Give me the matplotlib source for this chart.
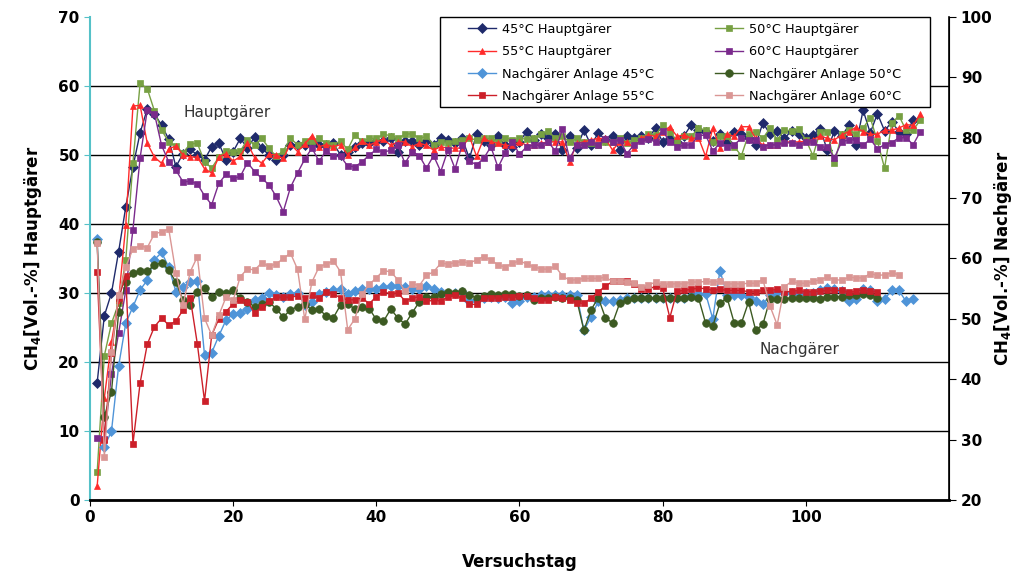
import numpy as np
import matplotlib
matplotlib.use("Agg")
import matplotlib.pyplot as plt
from matplotlib.patches import Rectangle

# CH4 Hauptgärer (left axis, Vol.-%)
h45 = [17, 26.7, 30, 36, 42.5, 48.3, 53.2, 56.7, 56, 54.3, 52.3, 48.3, 50.2, 50.8, 50, 49.3, 51.2, 51.7,
       49.3, 50.5, 52.4, 51, 52.6, 51, 50, 49.3, 50, 51.5, 51.4, 51.5, 52, 51.5, 51.5, 51.7, 50, 50.5, 51.2,
       51.7, 51.7, 52, 52, 52.4, 50.5, 52, 52, 51.5, 52, 51.5, 52.5, 52.2, 51.8, 52.4,
       49.5, 53, 52, 51.5, 52.7, 51.4, 51.2, 51.9, 53.4, 52.2, 53.1, 52.4, 53, 50.7, 52.7, 51, 53.6, 51.4,
       53.2, 52.2, 52.7, 50.7, 52.7, 52.4, 52.7, 52.4, 53.9, 51.9, 52.5, 51.9, 52.8, 54.4, 53.6,
       53.4, 52, 53, 51.9, 53.4, 53, 52.4, 51.4, 54.7, 53, 53.5, 52.4, 53.5, 53, 52.5, 52.9, 53.8, 50.7,
       53.5, 52.7, 54.3, 51.4, 56.5, 53.2, 56, 53.5, 54.8, 53.4, 53, 55.1]
h50 = [4, 20.9, 25.6, 28.5, 34.8, 48.9, 60.4, 59.6, 56.4, 53.6, 51.9, 51.3, 50.3, 51.6, 51.7, 49, 48.1, 49.7,
       50.6, 50.5, 50.6, 52.2, 51.5, 52.4, 51, 49.8, 50.6, 52.4, 51.5, 52, 52.1, 52.4, 51.7, 51.5, 52, 50.8,
       52.9, 52, 52.4, 52.4, 53, 52.8, 52.4, 53, 53.1, 52.4, 52.7, 51.5, 51.9, 51.7, 52, 52.2,
       52.4, 52.2, 52.4, 52.4, 51.9, 52.5, 52.2, 52.4, 52.3, 52.4, 53, 53.5, 52.4, 52.7, 51.9, 52.4, 51.9,
       51.7, 51.4, 51.9, 51.9, 52.4, 51.7, 52.2, 52.4, 53, 52.9, 54.3, 53.4, 52, 52.7, 52.7, 53.9,
       53.6, 51.9, 52.8, 52.7, 51.2, 49.9, 53, 53.4, 52.4, 53.9, 52.2, 53.6, 53.5, 53.7, 52.2, 49.9, 53.4,
       53.4, 48.8, 53, 53.6, 53, 53.9, 55.4, 52, 48.1, 54.6, 55.7, 53.6, 53.6, 55.1]
h55 = [2, 14.8, 22.9, 29, 39.9, 57.1, 57.2, 51.7, 49.7, 48.8, 50.9, 51.3, 50, 49.7, 49.7, 48, 47.4, 49.7,
       50.2, 49.1, 49.8, 51.7, 49.6, 48.8, 50.1, 50, 49.5, 51.6, 50.5, 51.6, 52.8, 51.2, 51.5, 51.2, 51.5,
       50, 51.1, 52, 51.4, 51.9, 52.3, 51.4, 51.9, 51.9, 51.2, 51.7, 51.4, 50.7, 51.2, 51, 51, 51,
       52.7, 49.8, 52.4, 51.9, 51.7, 51.4, 51.4, 51.9, 51.4, 51.4, 51.7, 51.9, 51.9, 51.9, 49, 51.7, 51.9,
       52.2, 52.4, 52.4, 50.7, 51.9, 51.9, 51, 52.4, 52.9, 52.7, 53.4, 54.1, 52.7, 52.9, 52.4, 52.5,
       49.8, 53.9, 51, 53, 52.7, 54.1, 54.1, 52.4, 51.4, 51.5, 51.4, 51.9, 51.9, 51.9, 52, 52.2, 52.8, 52.4,
       52.2, 52.9, 53.4, 54, 53.4, 53, 53, 53.6, 53.6, 53.9, 54.4, 54.3, 55.9]
h60 = [9, 8.8, 18.3, 24.2, 30.4, 39.2, 49.6, 56.5, 56, 51.4, 49, 47.8, 46.1, 46.2, 45.8, 44.1, 42.8, 45.9,
       47.2, 46.6, 46.9, 48.9, 47.6, 46.6, 45.7, 44, 41.8, 45.3, 47.4, 49.4, 51, 49.1, 50.6, 49.8, 49.8,
       48.4, 48.3, 49, 50, 50.8, 50.4, 50.7, 51.4, 48.8, 50.5, 49.9, 48.1, 49.9, 47.6, 50.7, 48, 51.5,
       49.1, 48.6, 49.5, 51.2, 48.2, 50.3, 51.9, 50.1, 51.2, 51.4, 51.4, 51.9, 50.6, 53.7, 49.5, 51.4, 51.5,
       51.9, 51.5, 52.3, 51.9, 52.2, 50.2, 51.5, 52, 52.3, 51.9, 53.5, 51.9, 51.2, 51.4, 51.5, 52.8,
       52.9, 50.6, 51.7, 51.2, 51.5, 52.4, 52.2, 52.2, 51.1, 51.5, 51.5, 51.7, 51.8, 51.5, 51.9, 51.9, 51.2,
       51.1, 49.6, 51.9, 52.2, 52.2, 51.4, 52.3, 50.9, 51.5, 51.8, 52.5, 52.5, 51.5, 53.4]

# CH4 Nachgärer (right axis, Vol.-%)
n45 = [63.2, 28.8, 31.4, 42.2, 49.3, 52, 54.8, 56.4, 59.8, 61, 58.6, 54.5, 55.3, 56.1, 56.3, 44, 44.4, 47.2,
       49.8, 50.8, 51, 51.7, 53.1, 53.5, 54.3, 53.9, 53.6, 54.1, 54.3, 52.3, 52.8, 54.2, 54.5, 54.7, 54.9,
       54.2, 54.6, 54.9, 54.9, 54.9, 55.3, 55.4, 55.4, 55.2, 55, 55, 55.4, 55, 54.5, 54.2, 54.3,
       54.5, 52.9, 53.2, 53.5, 53.6, 53.5, 53.7, 52.6, 53, 53.6, 53.6, 53.9, 54, 54, 54, 54, 54, 48.1, 50.3,
       52.9, 53, 53, 53.2, 53.5, 53.5, 53.5, 53.5, 53.5, 53.5, 53.5, 53.5, 53.5, 53.8, 54.1,
       54.2, 50, 58, 54, 53.9, 53.9, 53.6, 52.9, 52.4, 54, 54.4, 54.3, 54.3, 54.3, 54.3, 54.3, 54.7, 55.1,
       54.9, 54.6, 52.9, 53.3, 54.9, 54.7, 52.9, 53.3, 54.7, 54.7, 52.9, 53.3]
n50 = [62.7, 33.8, 37.9, 51.1, 56.1, 57.6, 57.9, 57.9, 58.9, 59.3, 58.1, 56.1, 53.1, 52.3, 54.5, 55.1, 53.6, 54.5,
       54.3, 54.7, 53.4, 52.8, 52, 52.5, 52.8, 51.7, 50.3, 51.5, 52, 52.4, 51.5, 51.7, 50.4, 50.2, 52.3,
       52.4, 51.7, 52, 51.7, 49.9, 49.6, 51.6, 50.2, 49.1, 51, 52.8, 53.6, 53.7, 54.2, 54.5, 54.3,
       54.6, 53.9, 53.5, 53.8, 54.1, 53.9, 54.1, 54.1, 53.8, 53.9, 53.2, 53.5, 53.5, 53.6, 53.4, 53.5, 53.1,
       48.1, 51.5, 53.5, 50.2, 49.3, 52.6, 53.1, 53.5, 53.5, 53.5, 53.5, 53.5, 53.5, 53.5, 53.5, 53.6, 53.5,
       49.3, 48.8, 52.6, 53.5, 49.3, 49.3, 52.8, 48.1, 49.1, 53.3, 53.3, 53.3, 53.5, 53.5, 53.5, 53.5, 53.3,
       53.7, 53.7, 53.7, 53.9, 53.9, 54.2, 53.9, 53.5]
n55 = [57.8, 30, 44.3, 53.5, 57.1, 29.3, 39.4, 45.8, 48.7, 50.1, 49, 49.6, 51.5, 53.5, 45.8, 36.4, 47.3, 50,
       51.2, 52.5, 53.2, 52.8, 51, 52, 52.9, 53.6, 53.6, 53.6, 53.8, 53.5, 53.9, 53.4, 54.5, 54.1, 53.5,
       53.1, 53.2, 53.5, 52.5, 53.7, 54.5, 54.1, 54.3, 53, 53.4, 53.7, 53, 53, 53, 53.6, 53.9,
       53.4, 52.4, 52.4, 53.5, 53.5, 53.4, 53.6, 53.6, 53.8, 53.8, 53.5, 53.1, 53.1, 53.6, 53.5, 53.2, 52.6,
       52.6, 53.4, 54.5, 55.4, 56.2, 56.3, 56.2, 55.8, 54.9, 54.9, 55.4, 55.1, 50.2, 54.6, 54.7, 54.9, 55.1,
       55, 54.7, 54.9, 54.7, 54.7, 54.7, 54.5, 54.5, 54.7, 54.7, 54.9, 54.4, 54.6, 54.7, 54.5, 54.5, 54.6,
       54.7, 54.7, 54.7, 54.4, 54.6, 54.7, 54.6, 54.4]
n60 = [62.6, 27.1, 44.5, 54, 58.6, 61.6, 62.1, 61.8, 64.1, 64.4, 64.9, 57.6, 52.3, 57.8, 60.3, 50.1, 47.3, 50.6,
       53.6, 53.1, 57, 58.3, 58.1, 59.3, 58.7, 59.1, 60, 60.9, 58.2, 49.9, 56.1, 58.6, 59.1, 59.6, 57.8,
       48.2, 50, 54.1, 55.7, 56.8, 58, 57.8, 56.5, 54.6, 55.8, 55.5, 57.2, 57.8, 59.2, 59.1, 59.3,
       59.5, 59.2, 59.8, 60.3, 59.8, 58.9, 58.6, 59.2, 59.6, 59.1, 58.6, 58.3, 58.2, 58.7, 57.1, 56.4, 56.5,
       56.7, 56.7, 56.7, 56.9, 56.2, 56.2, 56.1, 55.9, 55.3, 55.6, 56.1, 55.7, 55.8, 55.8, 55.8, 56.1, 56.1,
       56.2, 56.1, 56.2, 55.8, 55.8, 55.8, 55.9, 55.9, 56.5, 52.1, 49, 55.3, 56.2, 55.9, 55.9, 56.2, 56.5,
       56.9, 56.5, 56.4, 56.9, 56.8, 56.8, 57.5, 57.2, 57.3, 57.6, 57.3]

haupt = [
    (h45, "45°C Hauptgärer", "#1F2A6B", "D", 5.0),
    (h50, "50°C Hauptgärer", "#77A043", "s", 5.0),
    (h55, "55°C Hauptgärer", "#FF2B2B", "^", 5.0),
    (h60, "60°C Hauptgärer", "#7A2A8C", "s", 5.0),
]
nach = [
    (n45, "Nachgärer Anlage 45°C", "#4F94D8", "D", 5.0),
    (n50, "Nachgärer Anlage 50°C", "#3C5A22", "o", 5.5),
    (n55, "Nachgärer Anlage 55°C", "#CC1F29", "s", 4.5),
    (n60, "Nachgärer Anlage 60°C", "#DA9694", "s", 4.5),
]

W, H = 1012, 574
fig = plt.figure(figsize=(W / 100, H / 100), dpi=100)
ax = fig.add_axes([90 / W, 1 - 500 / H, 859 / W, 483 / H])
ax2 = ax.twinx()

handles = {}
for vals, lab, col, mk, ms in haupt:
    days = np.arange(1, len(vals) + 1)
    l, = ax.plot(days, vals, color=col, marker=mk, markersize=ms, lw=1.0,
                 markeredgewidth=0.5, label=lab)
    handles[lab] = l
for vals, lab, col, mk, ms in nach:
    days = np.arange(1, len(vals) + 1)
    l, = ax2.plot(days, vals, color=col, marker=mk, markersize=ms, lw=1.0,
                  markeredgewidth=0.5, label=lab)
    handles[lab] = l

ax.set_xlim(0, 120)
ax.set_ylim(0, 70)
ax2.set_ylim(20, 100)
ax.set_xticks(np.arange(0, 101, 20))
ax.set_yticks(np.arange(0, 71, 10))
ax2.set_yticks(np.arange(20, 101, 10))

ax.grid(axis="y", color="black", lw=1.0)
ax.get_ygridlines()[-1].set_visible(False)
ax.set_axisbelow(True)

for a in (ax, ax2):
    a.spines["top"].set_visible(False)
ax.spines["left"].set_color("#55C1C8")
ax.spines["left"].set_linewidth(1.5)
ax.spines["bottom"].set_linewidth(2.0)
ax2.spines["left"].set_visible(False)
ax2.spines["bottom"].set_visible(False)
ax2.spines["right"].set_linewidth(1.2)

ax.tick_params(axis="y", colors="#55C1C8", labelcolor="black", length=4, labelsize=11)
ax.tick_params(axis="x", length=4, labelsize=11)
ax2.tick_params(axis="y", length=5, labelsize=11)
for lbl in ax.get_xticklabels() + ax.get_yticklabels() + ax2.get_yticklabels():
    lbl.set_fontweight("bold")

ax.set_xlabel("Versuchstag", fontsize=12, fontweight="bold", labelpad=20)
ax.set_ylabel("CH$_\\mathbf{4}$[Vol.-%] Hauptgärer", fontsize=12, fontweight="bold")
ax2.set_ylabel("CH$_\\mathbf{4}$[Vol.-%] Nachgärer", fontsize=12, fontweight="bold")
ax.yaxis.set_label_coords((44 - 90) / 859, 0.5)
ax2.yaxis.set_label_coords((992 - 90) / 859, 0.5)

ax.text(13, 55.5, "Hauptgärer", fontsize=11, color="#333333")
ax2.text(93.5, 44.2, "Nachgärer", fontsize=11, color="#333333")

# legend: frame + two single-column blocks
fig.patches.append(Rectangle((440 / W, 1 - 107 / H), 490 / W, 90 / H, transform=fig.transFigure,
                             facecolor="white", edgecolor="black", lw=1.0, zorder=4))
cols = [["45°C Hauptgärer", "55°C Hauptgärer", "Nachgärer Anlage 45°C", "Nachgärer Anlage 55°C"],
        ["50°C Hauptgärer", "60°C Hauptgärer", "Nachgärer Anlage 50°C", "Nachgärer Anlage 60°C"]]
for labs, x0 in zip(cols, (468, 715)):
    fig.legend([handles[k] for k in labs], labs, loc="upper left",
               bbox_to_anchor=(x0 / W, 1 - 23 / H), frameon=False, fontsize=9.3,
               borderpad=0, borderaxespad=0, labelspacing=0.72, handlelength=2.2,
               handletextpad=0.4)

fig.savefig("out.png", dpi=100)
